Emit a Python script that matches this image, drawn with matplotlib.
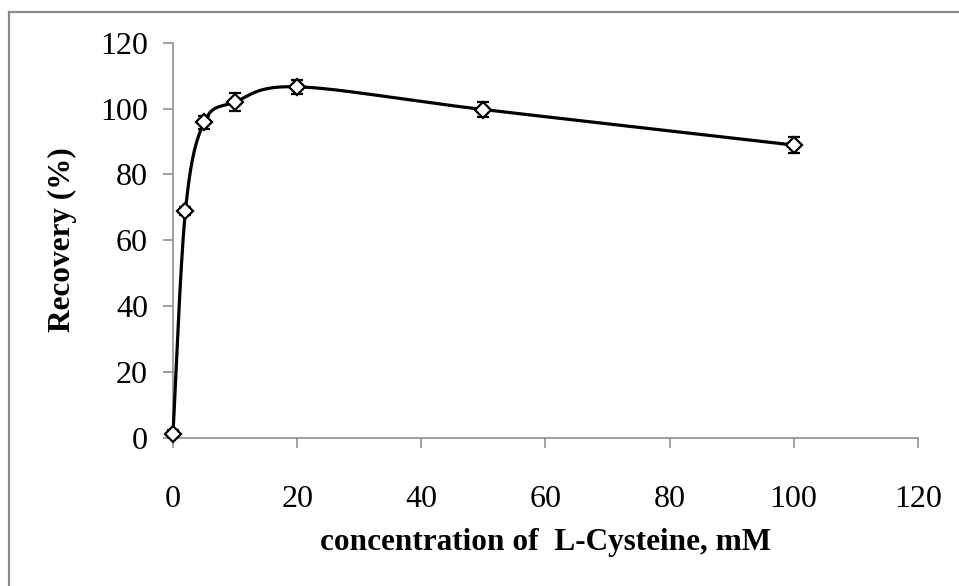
import numpy as np
import matplotlib
matplotlib.use("Agg")
import matplotlib.pyplot as plt
from matplotlib.lines import Line2D

# Data
conc = [0, 2, 5, 10, 20, 50, 100]
recovery = [1.2, 68.8, 95.8, 102.0, 106.6, 99.7, 88.9]
errors = [1.0, 1.2, 2.0, 2.7, 2.2, 2.2, 2.4]
x_ticks = [0, 20, 40, 60, 80, 100, 120]
y_ticks = [0, 20, 40, 60, 80, 100, 120]
x_label = "concentration of  L-Cysteine, mM"
y_label = "Recovery (%)"

plt.rcParams['font.family'] = ['Liberation Serif', 'DejaVu Serif']

fig = plt.figure(figsize=(9.59, 5.86), dpi=100)
ax = fig.add_axes([0.1804, 0.2534, 0.957 - 0.1804, 0.9271 - 0.2534])
ax.set_xlim(0, 120)
ax.set_ylim(0, 120)

gray = '#868686'
for s in ['top', 'right']:
    ax.spines[s].set_visible(False)
for s in ['left', 'bottom']:
    ax.spines[s].set_color(gray)
    ax.spines[s].set_linewidth(1.1)
ax.tick_params(axis='both', direction='out', color=gray, width=1.1, length=7,
               labelsize=23)
ax.tick_params(axis='x', pad=27)
ax.tick_params(axis='y', pad=11)
ax.set_xticks(x_ticks)
ax.set_yticks(y_ticks)

# Excel-style smoothed line computed in display space
fig.canvas.draw()
pts = ax.transData.transform(np.column_stack([conc, recovery]))
n = len(pts)
curve = []
for i in range(n - 1):
    p0 = pts[i - 1] if i > 0 else pts[i]
    p1 = pts[i]
    p2 = pts[i + 1]
    p3 = pts[i + 2] if i + 2 < n else pts[i + 1]
    c1 = p1 + (p2 - p0) / 6.0
    c2 = p2 - (p3 - p1) / 6.0
    t = np.linspace(0, 1, 60)[:, None]
    seg = ((1 - t) ** 3) * p1 + 3 * ((1 - t) ** 2) * t * c1 + 3 * (1 - t) * t ** 2 * c2 + t ** 3 * p2
    curve.append(seg if i == 0 else seg[1:])
curve = np.vstack(curve)
curve_data = ax.transData.inverted().transform(curve)
ax.plot(curve_data[:, 0], curve_data[:, 1], color='black', lw=2.3, zorder=3,
        clip_on=False)

ax.errorbar(conc, recovery, yerr=errors, fmt='D', ms=8, mfc='white', mec='black',
            mew=1.6, ecolor='black', elinewidth=1.5, capsize=4, capthick=1.5,
            zorder=4, clip_on=False)

ax.set_xlabel(x_label, fontsize=22.5, fontweight='bold', labelpad=10)
ax.set_ylabel(y_label, fontsize=22.5, fontweight='bold', labelpad=17)

# outer chart border
fig.add_artist(Line2D([8.5 / 959, 1.0], [1 - 11.5 / 586] * 2, transform=fig.transFigure,
                      color='#8a8a8a', lw=1.6))
fig.add_artist(Line2D([8.5 / 959] * 2, [0, 1 - 11.5 / 586], transform=fig.transFigure,
                      color='#8a8a8a', lw=1.6))

fig.savefig("out.png", dpi=100)
